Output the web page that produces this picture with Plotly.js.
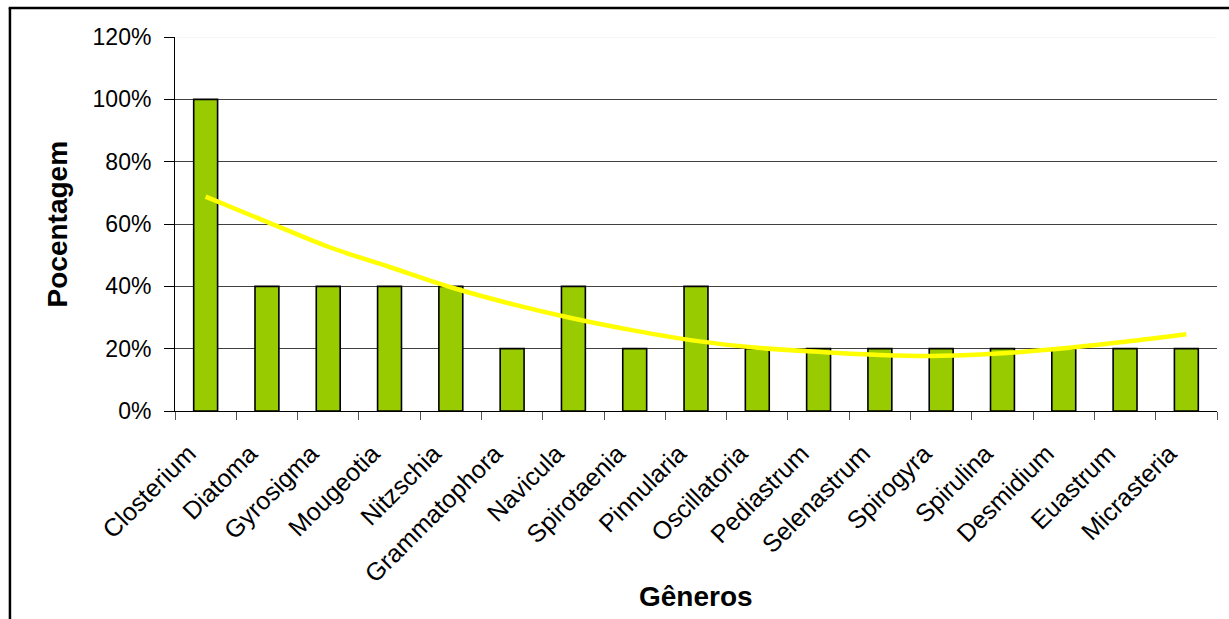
<!DOCTYPE html>
<html>
<head>
<meta charset="utf-8">
<script src="https://cdn.plot.ly/plotly-3.0.1.min.js"></script>
<style>
  html, body { margin: 0; padding: 0; background: #fff; }
  #chart { width: 1229px; height: 619px; }
</style>
</head>
<body>
<div id="chart"></div>
<script>
const categories = ["Closterium", "Diatoma", "Gyrosigma", "Mougeotia", "Nitzschia", "Grammatophora",
  "Navicula", "Spirotaenia", "Pinnularia", "Oscillatoria", "Pediastrum", "Selenastrum",
  "Spirogyra", "Spirulina", "Desmidium", "Euastrum", "Micrasteria"];
const percentages = [100, 40, 40, 40, 40, 20, 40, 20, 40, 20, 20, 20, 20, 20, 20, 20, 20];
const trendValues = [68.8, 60.7, 52.7, 46.2, 39.7, 34.3, 29.7, 25.8, 22.5, 20.3, 19.0, 18.0, 17.7, 18.5, 20.1, 22.2, 24.6];
const yTickValues = [0, 20, 40, 60, 80, 100, 120];
const yTickLabels = ["0%", "20%", "40%", "60%", "80%", "100%", "120%"];

const FONT = "'Liberation Sans', Arial, sans-serif";

const traces = [
  {
    type: "bar",
    x: categories,
    y: percentages,
    marker: { color: "#99CC00", line: { color: "#000000", width: 1.6 } },
    hoverinfo: "x+y"
  },
  {
    type: "scatter",
    mode: "lines",
    x: categories,
    y: trendValues,
    line: { color: "#FFFF00", width: 4.5, shape: "spline" },
    hoverinfo: "skip"
  }
];

const layout = {
  width: 1229,
  height: 619,
  margin: { l: 175, r: 12, t: 37, b: 208, pad: 0 },
  paper_bgcolor: "#ffffff",
  plot_bgcolor: "#ffffff",
  showlegend: false,
  bargap: 0.61,
  font: { family: FONT, color: "#000" },
  xaxis: {
    type: "category",
    tickangle: -45,
    tickfont: { family: FONT, size: 25, color: "#000" },
    ticks: "outside",
    tickson: "boundaries",
    ticklen: 8,
    tickcolor: "#555",
    ticklabelstandoff: 17,
    ticklabelshift: -17,
    showline: true,
    linecolor: "#000",
    linewidth: 1,
    showgrid: false
  },
  yaxis: {
    range: [0, 120],
    tickmode: "array",
    tickvals: yTickValues,
    ticktext: yTickLabels,
    tickfont: { family: FONT, size: 23, color: "#000" },
    ticks: "outside",
    ticklen: 10,
    tickcolor: "#000",
    ticklabelstandoff: 8,
    showline: true,
    linecolor: "#000",
    linewidth: 1,
    showgrid: true,
    gridcolor: "#404040",
    gridwidth: 1,
    zeroline: false
  },
  annotations: [
    { text: "<b>Gêneros</b>", xref: "paper", yref: "paper", x: 0.5, y: -0.4947,
      xanchor: "center", yanchor: "middle", showarrow: false,
      font: { family: FONT, size: 28, color: "#000" } },
    { text: "<b>Pocentagem</b>", xref: "paper", yref: "paper", x: -0.1128, y: 0.5,
      xanchor: "center", yanchor: "middle", showarrow: false, textangle: -90,
      font: { family: FONT, size: 28, color: "#000" } }
  ],
  shapes: [
    { type: "line", xref: "paper", yref: "y", x0: 0.001, x1: 1, y0: 120, y1: 120,
      line: { color: "#eeeeee", width: 1 }, layer: "between" },
    { type: "line", xref: "paper", yref: "paper", x0: -0.1584, x1: -0.1584, y0: 1.0775, y1: -0.6,
      line: { color: "#000", width: 2.5 }, layer: "above" },
    { type: "line", xref: "paper", yref: "paper", x0: -0.1596, x1: 1.03, y0: 1.0775, y1: 1.0775,
      line: { color: "#000", width: 2.5 }, layer: "above" }
  ]
};

Plotly.newPlot("chart", traces, layout, { displayModeBar: false, staticPlot: true });
</script>
</body>
</html>
